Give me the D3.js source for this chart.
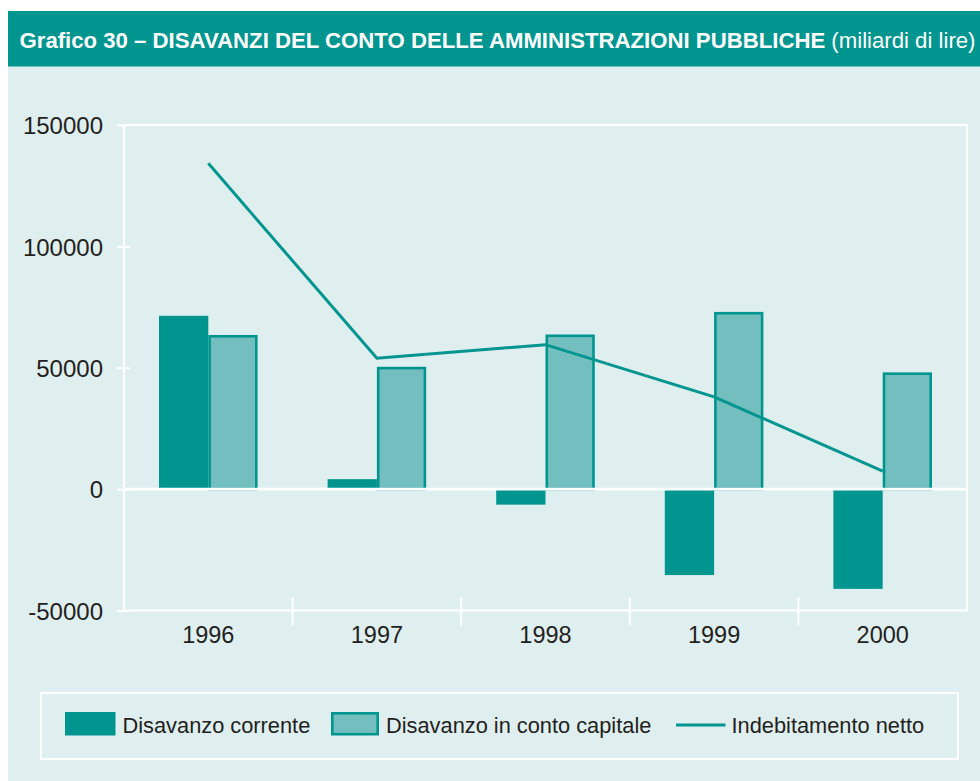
<!DOCTYPE html>
<html><head><meta charset="utf-8">
<script src="https://cdn.jsdelivr.net/npm/d3@7"></script>
<style>body{margin:0;background:#fff;} svg{display:block;}</style>
</head><body>
<svg id="c" width="980" height="781"></svg>
<script>
const years = ["1996","1997","1998","1999","2000"];
const disavanzoCorrente = [71400, 4100, -6400, -35400, -41100];
const disavanzoCapitale = [63500, 50400, 63700, 73000, 48100];
const indebitamentoNetto = [134200, 53900, 59500, 38000, 7400];
const yTicks = [-50000, 0, 50000, 100000, 150000];
const seriesNames = ["Disavanzo corrente", "Disavanzo in conto capitale", "Indebitamento netto"];

const TEAL = "#00968f", LIGHT = "#73bfbf", BG = "#dfeeee", TXT = "#231f20";
const svg = d3.select("#c");
svg.append("rect").attr("x",8).attr("y",11).attr("width",972).attr("height",770).attr("fill",BG);
svg.append("rect").attr("x",8).attr("y",11).attr("width",972).attr("height",55.5).attr("fill",TEAL);

const title = svg.append("text").attr("x",19.5).attr("y",47.5).attr("fill","#fff")
  .attr("font-family","'Liberation Sans Narrow','Arial Narrow','Liberation Sans',Arial,sans-serif")
  .attr("font-size",22).attr("textLength",956).attr("lengthAdjust","spacingAndGlyphs");
title.append("tspan").attr("font-weight","bold").text("Grafico 30 – DISAVANZI DEL CONTO DELLE AMMINISTRAZIONI PUBBLICHE");
title.append("tspan").text(" (miliardi di lire)");

const L = 124, R = 967, T = 125;
const y = d3.scaleLinear().domain([-50000,150000]).range([610.5,125]);
const x = d3.scaleBand().domain(years).range([L,R]).padding(0);
const xs = d3.scaleBand().domain([0,1]).range([0,x.bandwidth()]).paddingInner(0).paddingOuter(0.71);
const font = "'Liberation Sans',Arial,Helvetica,sans-serif";

const W = "#ffffff";
svg.append("rect").attr("x",L).attr("y",T).attr("width",R-L).attr("height",y(-50000)-T)
  .attr("fill","none").attr("stroke",W).attr("stroke-width",2.2);

const yAxis = d3.axisLeft(y).tickValues(yTicks).tickSize(0).tickPadding(0);
const ya = svg.append("g").attr("transform",`translate(${L},0)`).call(yAxis);
ya.select(".domain").remove();
ya.selectAll(".tick text").remove();
ya.selectAll(".tick").append("line").attr("x1",-7).attr("x2",6).attr("stroke",W).attr("stroke-width",2);
ya.selectAll(".tick").append("text").attr("x",-21).attr("dy","0.36em").attr("text-anchor","end")
  .attr("fill",TXT).attr("font-family",font).attr("font-size",24).text(d=>d);

const sep = years.slice(1).map(d=>x(d));
svg.selectAll(".sep").data(sep).join("line").attr("x1",d=>d).attr("x2",d=>d)
  .attr("y1",597.5).attr("y2",625.5).attr("stroke",W).attr("stroke-width",2);
const xAxis = d3.axisBottom(x).tickSize(0).tickPadding(0);
const xa = svg.append("g").attr("transform",`translate(0,${y(-50000)})`).call(xAxis);
xa.select(".domain").remove();
xa.selectAll(".tick text").attr("y",32).attr("dy",0).attr("fill",TXT)
  .attr("font-family",font).attr("font-size",23.5);

const g = svg.append("g");
g.selectAll(".dc").data(years).join("rect")
  .attr("x",d=>x(d)+xs(0)).attr("width",xs.bandwidth())
  .attr("y",(d,i)=>y(Math.max(0,disavanzoCorrente[i])))
  .attr("height",(d,i)=>Math.abs(y(disavanzoCorrente[i])-y(0)))
  .attr("fill",TEAL);
const sw = 2.6;
g.selectAll(".dk").data(years).join("rect")
  .attr("x",d=>x(d)+xs(1)+sw/2).attr("width",xs.bandwidth()-sw)
  .attr("y",(d,i)=>y(disavanzoCapitale[i])+sw/2)
  .attr("height",(d,i)=>y(0)-y(disavanzoCapitale[i])-sw/2)
  .attr("fill",LIGHT).attr("stroke",TEAL).attr("stroke-width",sw);

svg.append("line").attr("x1",L).attr("x2",R).attr("y1",y(0)).attr("y2",y(0))
  .attr("stroke",W).attr("stroke-width",2.8);

const line = d3.line().x((d,i)=>x(years[i])+x.bandwidth()/2).y(d=>y(d));
svg.append("path").datum(indebitamentoNetto).attr("d",line).attr("fill","none")
  .attr("stroke",TEAL).attr("stroke-width",3);

svg.append("rect").attr("x",41).attr("y",693).attr("width",917).attr("height",66)
  .attr("fill","none").attr("stroke",W).attr("stroke-width",2);
svg.append("rect").attr("x",65).attr("y",712).attr("width",50.5).attr("height",23.5).attr("fill",TEAL);
svg.append("rect").attr("x",331+1.3).attr("y",712+1.3).attr("width",48-2.6).attr("height",23.5-2.6)
  .attr("fill",LIGHT).attr("stroke",TEAL).attr("stroke-width",2.6);
svg.append("line").attr("x1",676).attr("x2",725.5).attr("y1",725).attr("y2",725)
  .attr("stroke",TEAL).attr("stroke-width",3);
const lx = [122.5, 386, 731.5];
svg.selectAll(".lt").data(seriesNames).join("text")
  .attr("x",(d,i)=>lx[i]).attr("y",733).attr("fill",TXT)
  .attr("font-family",font).attr("font-size",21.8).text(d=>d);
</script>
</body></html>
